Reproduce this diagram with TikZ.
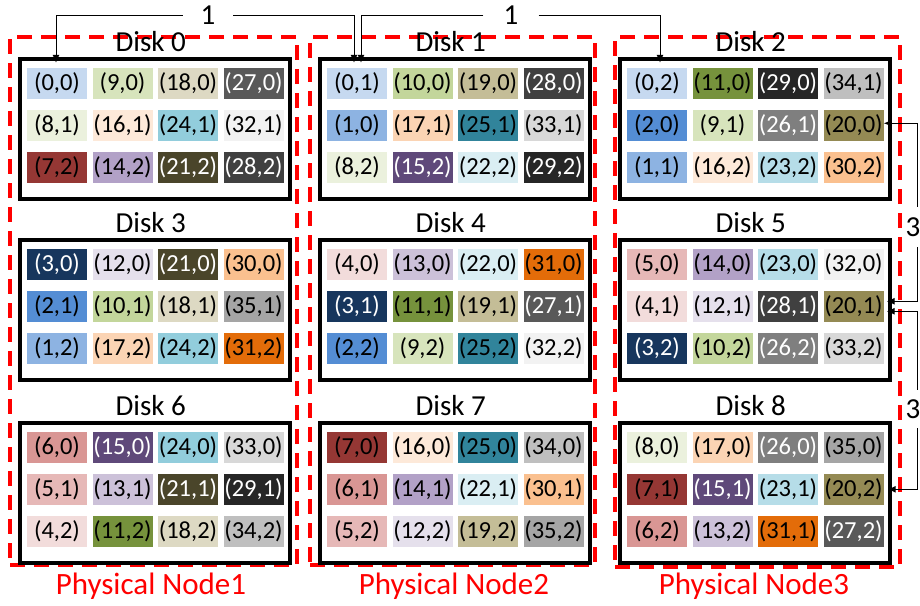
\documentclass[tikz,border=0pt]{standalone}
\usepackage{fontspec}
\setmainfont{Carlito}
\usetikzlibrary{arrows.meta}
\newcommand\defblk[3]{\definecolor{k#1}{HTML}{#2}\colorlet{t#1}{#3}}
\defblk{0}{C6D9F0}{black}
\defblk{1}{8DB3E2}{black}
\defblk{2}{548DD4}{black}
\defblk{3}{17365D}{white}
\defblk{4}{F2DCDB}{black}
\defblk{5}{E6B8B7}{black}
\defblk{6}{D99694}{black}
\defblk{7}{953734}{black}
\defblk{8}{EBF1DD}{black}
\defblk{9}{D7E4BC}{black}
\defblk{10}{C3D69B}{black}
\defblk{11}{76923C}{black}
\defblk{12}{E5E0EC}{black}
\defblk{13}{CCC1D9}{black}
\defblk{14}{B2A1C7}{black}
\defblk{15}{5F497A}{white}
\defblk{16}{FDE9D9}{black}
\defblk{17}{FBD4B4}{black}
\defblk{18}{DDD9C3}{black}
\defblk{19}{C4BD97}{black}
\defblk{20}{948A54}{black}
\defblk{21}{4A452A}{white}
\defblk{22}{DAEEF3}{black}
\defblk{23}{B6DDE8}{black}
\defblk{24}{92CDDC}{black}
\defblk{25}{31849B}{black}
\defblk{26}{7F7F7F}{white}
\defblk{27}{595959}{white}
\defblk{28}{404040}{white}
\defblk{29}{262626}{white}
\defblk{30}{FAC08F}{black}
\defblk{31}{E36C09}{black}
\defblk{32}{F2F2F2}{black}
\defblk{33}{D8D8D8}{black}
\defblk{34}{BFBFBF}{black}
\defblk{35}{A5A5A5}{black}
\definecolor{pred}{HTML}{FF0000}
\definecolor{celltext}{HTML}{101020}
\begin{document}
\begin{tikzpicture}[x=1pt,y=-1pt,
  cellbox/.style={minimum width=60pt,minimum height=31pt,inner sep=0pt,font=\fontsize{24.5}{26}\selectfont},
  diskbox/.style={draw=black,line width=3.5pt,minimum width=270pt,minimum height=140pt,inner sep=0pt,anchor=north west},
  disktitle/.style={font=\fontsize{29}{31}\selectfont,anchor=base,inner sep=0pt},
  pnode/.style={draw=pred,line width=4pt,dash pattern=on 15pt off 9pt,inner sep=0pt,anchor=north west},
  pnlabel/.style={text=pred,font=\fontsize{31}{33}\selectfont,anchor=base,inner sep=0pt},
  lbl/.style={font=\fontsize{29}{31}\selectfont,inner sep=0pt},
  conn/.style={line width=1pt,-{Latex[length=8pt,width=7pt]}}]
\useasboundingbox (0,0) rectangle (920,605);
% physical nodes
\node[pnode,minimum width=287pt,minimum height=528pt] (pn1) at (8,35) {};
\node[pnode,minimum width=285pt,minimum height=528pt] (pn2) at (308,35) {};
\node[pnode,minimum width=285pt,minimum height=530pt] (pn3) at (613,35) {};
\node[pnlabel] (pl1) at (151,594) {Physical Node1};
\node[pnlabel] (pl2) at (454,594) {Physical Node2};
\node[pnlabel] (pl3) at (754,594) {Physical Node3};
% disks
\foreach \d/\X/\Y/\cells in {
  0/18/57/{0/0,9/0,18/0,27/0,8/1,16/1,24/1,32/1,7/2,14/2,21/2,28/2},
  1/318/57/{0/1,10/0,19/0,28/0,1/0,17/1,25/1,33/1,8/2,15/2,22/2,29/2},
  2/618/57/{0/2,11/0,29/0,34/1,2/0,9/1,26/1,20/0,1/1,16/2,23/2,30/2},
  3/18/238/{3/0,12/0,21/0,30/0,2/1,10/1,18/1,35/1,1/2,17/2,24/2,31/2},
  4/318/238/{4/0,13/0,22/0,31/0,3/1,11/1,19/1,27/1,2/2,9/2,25/2,32/2},
  5/618/238/{5/0,14/0,23/0,32/0,4/1,12/1,28/1,20/1,3/2,10/2,26/2,33/2},
  6/18/421/{6/0,15/0,24/0,33/0,5/1,13/1,21/1,29/1,4/2,11/2,18/2,34/2},
  7/318/421/{7/0,16/0,25/0,34/0,6/1,14/1,22/1,30/1,5/2,12/2,19/2,35/2},
  8/618/421/{8/0,17/0,26/0,35/0,7/1,15/1,23/1,20/2,6/2,13/2,31/1,27/2}}{
  \node[diskbox] (disk\d) at (\X,\Y) {};
  \node[disktitle] (title\d) at ([xshift=-4pt,yshift=6pt]disk\d.north) {Disk \d};
  \foreach \b/\c [count=\n from 0] in \cells {
    \pgfmathtruncatemacro\col{mod(\n,4)}
    \pgfmathtruncatemacro\row{div(\n,4)}
    \node[cellbox,fill=k\b,text=t\b] (c\b-\c) at (\X+39+65.5*\col,\Y+26+42.25*\row) {(\b,\c)};
  }
}
% top connectors
\node[lbl,minimum width=50pt] (one1) at (208,15) {1};
\node[lbl,minimum width=55pt] (one2) at (511,15) {1};
\draw[conn] (one1.west) -| ([xshift=-1pt,yshift=4.5pt]c0-0.north);
\draw[conn] (one1.east) -| ([xshift=-3pt,yshift=4.5pt]c0-1.north);
\draw[conn] (one2.west) -| ([xshift=4pt,yshift=4.5pt]c0-1.north);
\draw[conn] (one2.east) -| ([xshift=3pt,yshift=4.5pt]c0-2.north);
% right connectors
\coordinate (rx) at (917,0);
\node[lbl,minimum height=40pt] (three1) at (913,227) {3};
\node[lbl,minimum height=38pt] (three2) at (913,409) {3};
\draw[conn] (three1.north -| rx) |- ([xshift=0pt,yshift=2pt]c20-0.east);
\draw[conn] (three1.south -| rx) |- ([xshift=3pt,yshift=5pt]c20-1.east);
\draw[conn] (three2.north -| rx) |- ([xshift=3pt,yshift=-5pt]c20-1.east);
\draw[conn] (three2.south -| rx) |- ([xshift=4pt]c20-2.east);
\end{tikzpicture}
\end{document}
